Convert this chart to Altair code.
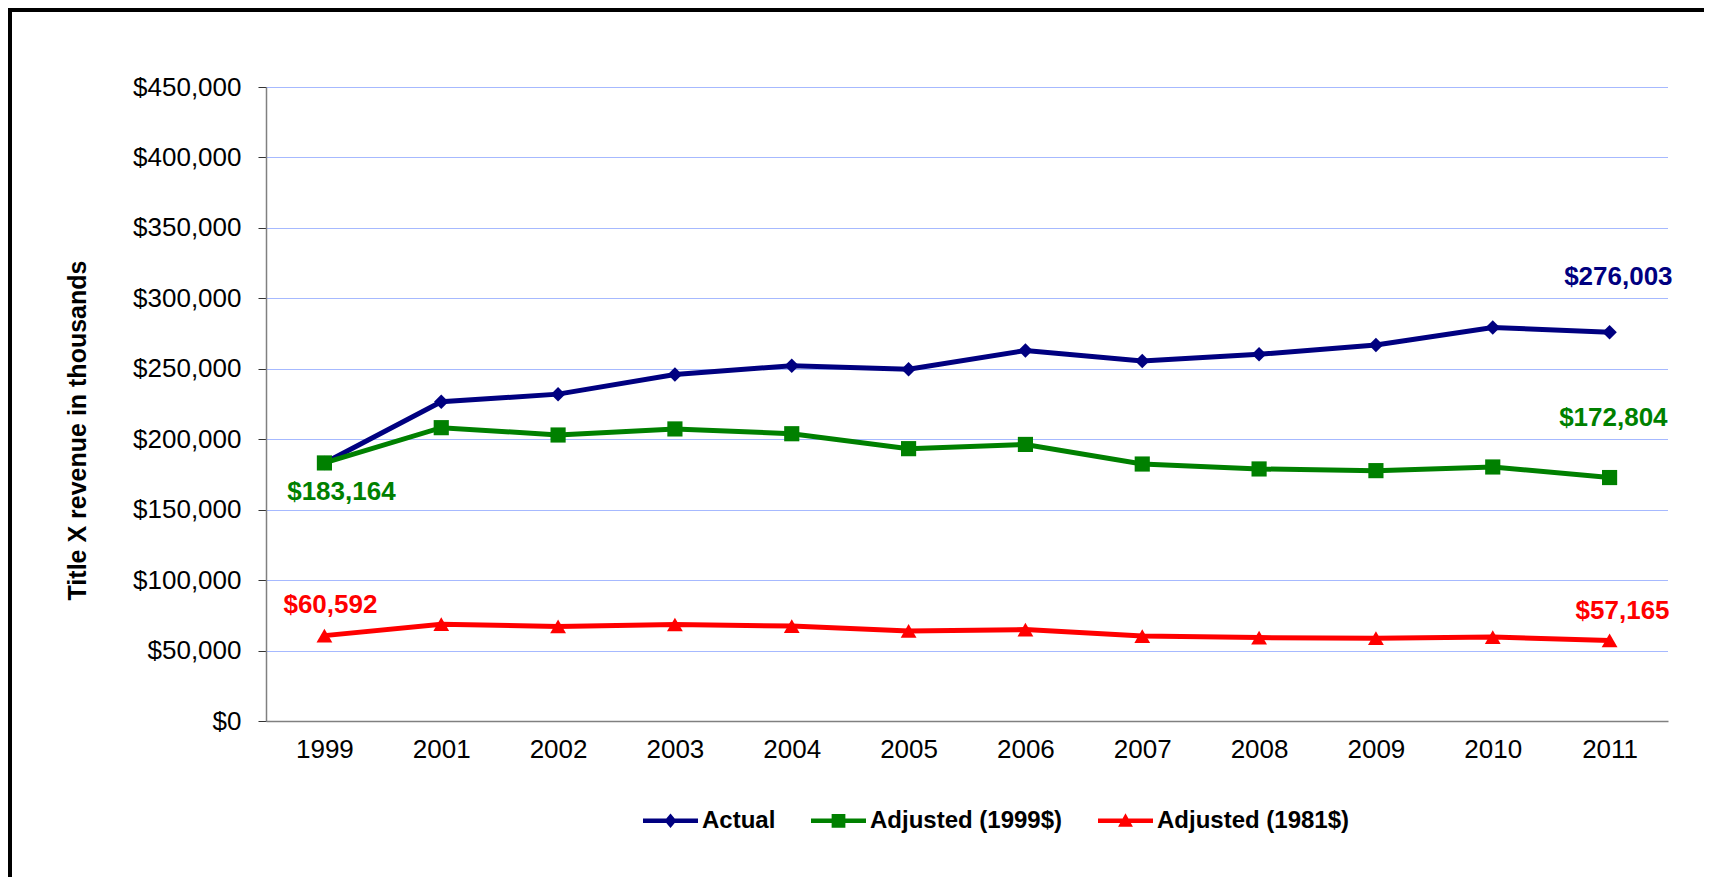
import altair as alt
import pandas as pd

# ---- data ----
years = ["1999", "2001", "2002", "2003", "2004", "2005", "2006",
         "2007", "2008", "2009", "2010", "2011"]
actual = [183164, 226600, 232000, 245900, 252200, 249600, 263000,
          255500, 260300, 266900, 279300, 276003]
adjusted_1999 = [183164, 208200, 203000, 207300, 203900, 193300, 196300,
                 182400, 178900, 177700, 180300, 172804]
adjusted_1981 = [60592, 68700, 67100, 68500, 67400, 63900, 64900,
                 60300, 59200, 58800, 59600, 57165]
series_names = ["Actual", "Adjusted (1999$)", "Adjusted (1981$)"]
y_ticks = [0, 50000, 100000, 150000, 200000, 250000, 300000, 350000, 400000, 450000]

# ---- styles ----
colors = ["#000080", "#008000", "#FF0000"]
marker_shapes = ["diamond", "square", "triangle-up"]
marker_sizes = [210, 250, 270]
legend_paths = [
    "M-1,-0.08H1V0.08H-1Z M0,-0.26L0.22,0L0,0.26L-0.22,0Z",
    "M-1,-0.08H1V0.08H-1Z M-0.25,-0.25H0.25V0.25H-0.25Z",
    "M-1,-0.08H1V0.08H-1Z M0,-0.27L0.27,0.22H-0.27Z",
]
# (series, year, align, dx, dy)
label_specs = [
    ("Actual", "2011", "right", 63, -55),
    ("Adjusted (1999$)", "2011", "right", 58, -60),
    ("Adjusted (1981$)", "2011", "right", 60, -29),
    ("Adjusted (1999$)", "1999", "center", 17, 29),
    ("Adjusted (1981$)", "1999", "center", 6, -31),
]
FONT = "Liberation Sans"

rows = []
for name, vals in zip(series_names, [actual, adjusted_1999, adjusted_1981]):
    for yr, v in zip(years, vals):
        rows.append({"year": yr, "series": name, "value": v})
df = pd.DataFrame(rows)

x_enc = alt.X("year:O", sort=years, scale=alt.Scale(type="point", padding=0.5),
              axis=alt.Axis(title=None, labelAngle=0, labelFont=FONT, labelFontSize=26,
                            labelColor="black", labelPadding=15, ticks=False,
                            domainColor="#808080", domainWidth=1.5, grid=False))
y_enc = alt.Y("value:Q", scale=alt.Scale(domain=[0, 450000], nice=False, zero=True),
              axis=alt.Axis(values=y_ticks, format="$,.0f",
                            title="Title X revenue in thousands",
                            titleFont=FONT, titleFontSize=25, titleFontWeight="bold",
                            titleColor="black", titleX=-189, titleY=343,
                            titleAlign="center", titleBaseline="middle",
                            labelFont=FONT, labelFontSize=26, labelColor="black",
                            labelPadding=17, tickSize=8, tickColor="#333333",
                            domainColor="#808080", domainWidth=1.5,
                            grid=True, gridColor="#4d72ff", gridDash=[1, 1],
                            gridWidth=1))


def color_enc(legend=None):
    if legend is None:
        return alt.Color("series:N", scale=alt.Scale(domain=series_names, range=colors),
                         legend=None)
    return alt.Color("series:N", scale=alt.Scale(domain=series_names, range=colors),
                     legend=legend)


base = alt.Chart(df)

lines = base.mark_line(strokeWidth=5).encode(
    x=x_enc, y=y_enc, color=color_enc(), detail="series:N")

points = base.mark_point(filled=True, opacity=1).encode(
    x=x_enc, y=y_enc, color=color_enc(),
    shape=alt.Shape("series:N", scale=alt.Scale(domain=series_names, range=marker_shapes),
                    legend=None),
    size=alt.Size("series:N", scale=alt.Scale(domain=series_names, range=marker_sizes),
                  legend=None),
)

labels = []
for s, yr, al, dx, dy in label_specs:
    labels.append(
        base.transform_filter((alt.datum.series == s) & (alt.datum.year == yr))
        .mark_text(align=al, baseline="middle", dx=dx, dy=dy, font=FONT,
                   fontSize=26, fontWeight="bold")
        .encode(x=x_enc, y=y_enc, color=color_enc(),
                text=alt.Text("value:Q", format="$,.0f"))
    )

leg = alt.Legend(orient="none", legendX=377, legendY=706, direction="horizontal",
                 columns=3, title=None, symbolSize=3025, symbolStrokeWidth=0,
                 symbolOpacity=1, labelFont=FONT, labelFontSize=24,
                 labelFontWeight="bold", labelColor="black", labelOffset=4,
                 columnPadding=35, labelLimit=400, padding=0)

legend_layer = base.transform_filter("false").mark_point(filled=True, opacity=1).encode(
    color=color_enc(leg),
    shape=alt.Shape("series:N", scale=alt.Scale(domain=series_names, range=legend_paths),
                    legend=leg),
)

# decorative chart frame (left and top edges only, as in the cropped reference)
frame_df = pd.DataFrame({"f": [0]})
frame_left = alt.Chart(frame_df).mark_rect(color="black", strokeWidth=0, clip=False).encode(
    x=alt.value(-258), x2=alt.value(-254), y=alt.value(-79), y2=alt.value(790))
frame_top = alt.Chart(frame_df).mark_rect(color="black", strokeWidth=0, clip=False).encode(
    x=alt.value(-258), x2=alt.value(1438), y=alt.value(-79), y2=alt.value(-75))

chart = alt.layer(frame_left, frame_top, lines, points, *labels, legend_layer).resolve_scale(
    color="independent", shape="independent"
).properties(
    width=1402, height=634,
    padding={"left": 258, "top": 79, "right": 36, "bottom": 156},
    autosize=alt.AutoSizeParams(type="none"),
).configure_view(stroke=None)

chart.save("out.html", embed_options={"renderer": "svg", "actions": False})
